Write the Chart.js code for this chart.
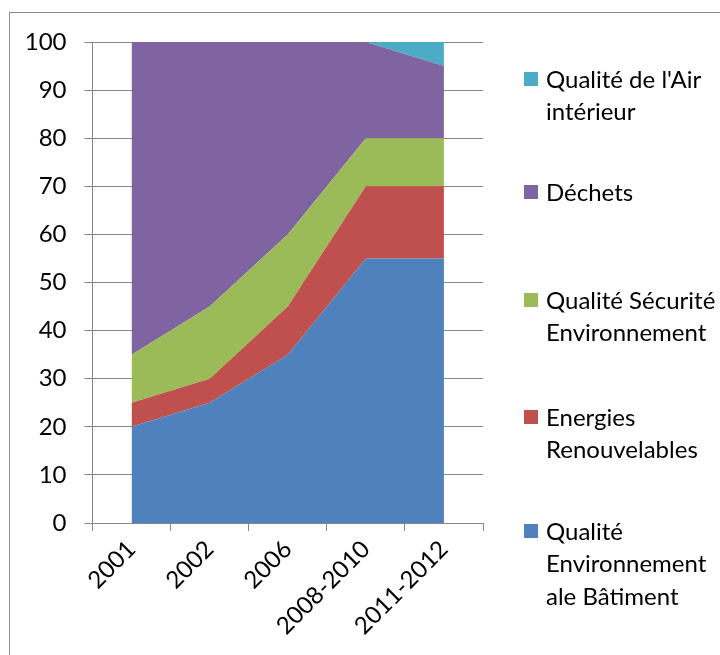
<!DOCTYPE html>
<html>
<head>
<meta charset="utf-8">
<script src="https://cdn.jsdelivr.net/npm/chart.js@4"></script>
<style>
  html, body { margin: 0; padding: 0; background: #fff; }
  #wrap { position: relative; width: 720px; height: 655px; overflow: hidden; font-family: Lato, sans-serif; }
  #frame { position: absolute; left: 9px; top: 12px; width: 800px; height: 800px; border-top: 1px solid #8c8c8c; border-left: 1px solid #8c8c8c; }
  #chartArea { position: absolute; left: 0; top: 0; }
  .legend-item { position: absolute; left: 524px; font-size: 24px; line-height: 32.5px; color: #000; }
  .legend-item .box { position: absolute; left: 0; top: 9px; width: 14px; height: 14px; }
  .legend-item .txt { position: absolute; left: 22px; top: 0; white-space: nowrap; }
</style>
</head>
<body>
<div id="wrap">
  <div id="frame"></div>
  <canvas id="chartArea" width="720" height="655"></canvas>
  <div id="legend"></div>
</div>
<script>
const categories = ['2001', '2002', '2006', '2008-2010', '2011-2012'];
const yTicks = [0, 10, 20, 30, 40, 50, 60, 70, 80, 90, 100];

// series, bottom of the stack first
const batiment = [20, 25, 35, 55, 55];
const energies = [5, 5, 10, 15, 15];
const securite = [10, 15, 15, 10, 10];
const dechets = [65, 55, 40, 20, 15];
const airInterieur = [0, 0, 0, 0, 5];

const seriesNames = [
  ['Qualité', 'Environnement', 'ale Bâtiment'],
  ['Energies', 'Renouvelables'],
  ['Qualité Sécurité', 'Environnement'],
  ['Déchets'],
  ["Qualité de l'Air", 'intérieur']
];
const seriesData = [batiment, energies, securite, dechets, airInterieur];
const seriesColors = ['#4f81bd', '#c0504d', '#9bbb59', '#8064a2', '#4bacc6'];

const FONT = 'Lato, sans-serif';
const gridColor = '#868686';

const datasets = seriesData.map((d, i) => ({
  label: seriesNames[i].join(' '),
  data: d,
  backgroundColor: seriesColors[i],
  borderColor: seriesColors[i],
  borderWidth: 0,
  pointRadius: 0,
  tension: 0,
  fill: i === 0 ? 'origin' : '-1'
}));

const ctx = document.getElementById('chartArea').getContext('2d');
const chart = new Chart(ctx, {
  type: 'line',
  data: { labels: categories, datasets: datasets },
  options: {
    responsive: false,
    animation: false,
    events: [],
    layout: { padding: { left: 0, top: 42, right: 237, bottom: 0 } },
    plugins: { legend: { display: false }, tooltip: { enabled: false } },
    scales: {
      x: {
        offset: true,
        grid: { display: true, offset: true, drawOnChartArea: false, drawTicks: true, tickLength: 8, color: gridColor },
        border: { color: gridColor },
        ticks: { color: '#000', font: { family: FONT, size: 24 }, minRotation: 45, maxRotation: 45, padding: 4 },
        afterFit: s => { s.height = 132; }
      },
      y: {
        stacked: true,
        min: 0,
        max: 100,
        afterBuildTicks: s => { s.ticks = yTicks.map(v => ({ value: v })); },
        grid: { color: gridColor, tickLength: 8 },
        border: { color: gridColor },
        ticks: { color: '#000', font: { family: FONT, size: 24 }, padding: 18 },
        afterFit: s => { s.width = 92.5; }
      }
    }
  }
});

// legend, top entry = last series
const legendTops = [79, 192, 300, 417, 531];
const legend = document.getElementById('legend');
for (let k = 0; k < seriesNames.length; k++) {
  const i = seriesNames.length - 1 - k;
  const item = document.createElement('div');
  item.className = 'legend-item';
  item.style.top = (legendTops[k] - 16.25) + 'px';
  const box = document.createElement('div');
  box.className = 'box';
  box.style.background = seriesColors[i];
  const txt = document.createElement('div');
  txt.className = 'txt';
  txt.innerHTML = seriesNames[i].join('<br>');
  item.appendChild(box);
  item.appendChild(txt);
  legend.appendChild(item);
}
</script>
</body>
</html>
